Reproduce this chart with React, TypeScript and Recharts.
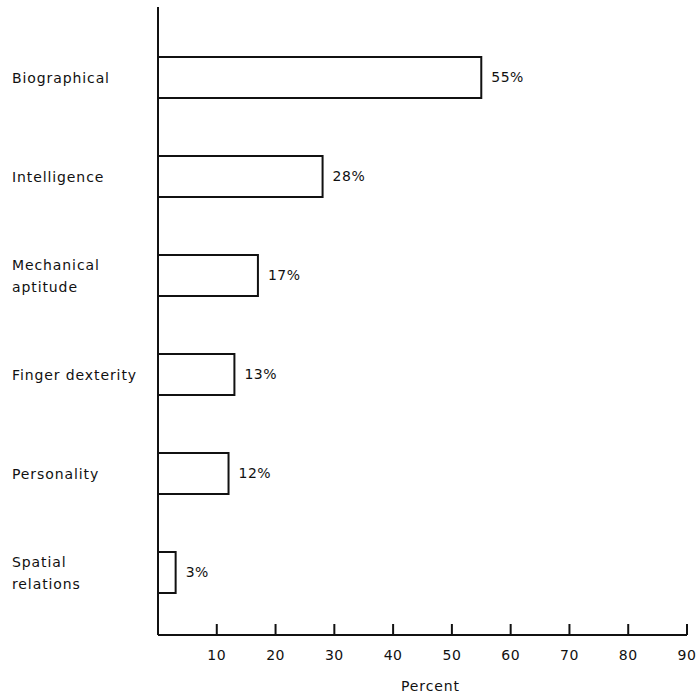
import React from 'react'
import { BarChart, Bar, XAxis, YAxis, LabelList } from 'recharts'

const categories = ['Biographical', 'Intelligence', 'Mechanical\naptitude', 'Finger dexterity', 'Personality', 'Spatial\nrelations']
const percents = [55, 28, 17, 13, 12, 3]
const xTicks = [10, 20, 30, 40, 50, 60, 70, 80, 90]

const data = categories.map((c, i) => ({ category: c, value: percents[i] }))

const FONT = '"DejaVu Sans", sans-serif'
const INK = '#111'

function CategoryTick(props: any) {
  const { y, payload } = props
  const lines: string[] = String(payload.value).split('\n')
  const start = -((lines.length - 1) * 22) / 2
  return (
    <g>
      {lines.map((l, i) => (
        <text key={i} x={12} y={y + start + i * 22} dy={5} textAnchor="start" fontSize={14} letterSpacing={0.9} fontFamily={FONT} fill={INK}>
          {l}
        </text>
      ))}
    </g>
  )
}

function PercentTick(props: any) {
  const { x, y, payload } = props
  return (
    <g>
      <line x1={x} y1={y - 11} x2={x} y2={y} stroke={INK} strokeWidth={2} />
      <text x={x} y={y + 25} textAnchor="middle" fontSize={14} letterSpacing={0.5} fontFamily={FONT} fill={INK}>
        {payload.value}
      </text>
    </g>
  )
}

export default function App() {
  return (
    <div style={{ position: 'absolute', left: 0, top: 0, background: '#fff' }}>
      <BarChart
        width={700}
        height={695}
        data={data}
        layout="vertical"
        margin={{ top: 7, right: 13, bottom: 30, left: 0 }}
        barSize={41}
      >
        <XAxis
          type="number"
          domain={[0, 90]}
          ticks={xTicks}
          interval={0}
          height={30}
          tickSize={0}
          tickMargin={0}
          tick={<PercentTick />}
          axisLine={{ stroke: INK, strokeWidth: 2 }}
          tickLine={false}
          label={{ value: 'Percent', position: 'bottom', offset: 16, dx: 8, fontSize: 14, letterSpacing: 0.9, fontFamily: FONT, fill: INK }}
        />
        <YAxis
          type="category"
          dataKey="category"
          width={158}
          padding={{ top: 21, bottom: 13 }}
          tick={<CategoryTick />}
          tickLine={false}
          axisLine={{ stroke: INK, strokeWidth: 2 }}
          interval={0}
        />
        <Bar dataKey="value" fill="#fff" stroke={INK} strokeWidth={2} isAnimationActive={false}>
          <LabelList
            dataKey="value"
            position="right"
            offset={10}
            formatter={(v: any) => `${v}%`}
            style={{ fontSize: 14, letterSpacing: 0.5, fontFamily: FONT, fill: INK }}
          />
        </Bar>
      </BarChart>
    </div>
  )
}
